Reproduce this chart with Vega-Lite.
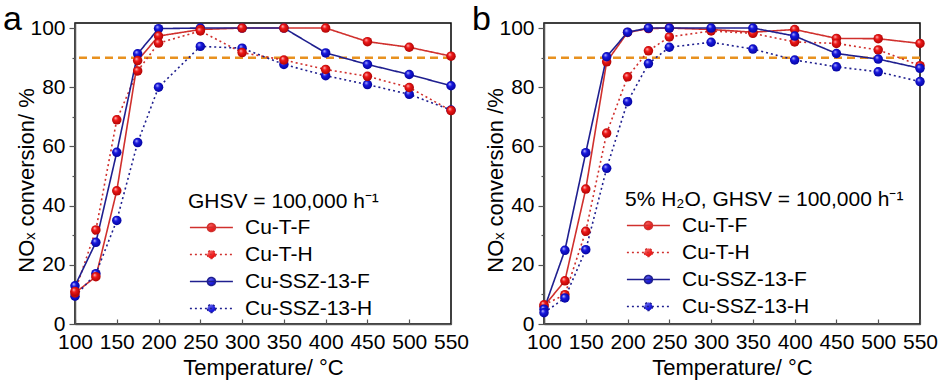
{
  "$schema": "https://vega.github.io/schema/vega-lite/v6.json",
  "padding": {"top": 2, "left": 2, "right": 2, "bottom": 2},
  "spacing": 1,
  "background": "white",
  "config": {
    "font": "Liberation Sans",
    "view": {"stroke": "black", "strokeWidth": 1.5},
    "axis": {"domainColor": "#555", "domainWidth": 1.5, "tickColor": "#555", "tickWidth": 1.2, "labelColor": "black", "labelFontSize": 21, "titleFontSize": 22, "titleFontWeight": "normal", "titleColor": "black", "grid": false, "labelFont": "Liberation Sans", "titleFont": "Liberation Sans"},
    "axisX": {"values": [100,125,150,175,200,225,250,275,300,325,350,375,400,425,450,475,500,525,550], "labelExpr": "datum.value % 50 === 0 ? datum.label : ''", "tickSize": {"condition": {"test": "datum.value % 50 === 0", "value": -5}, "value": -3}, "labelPadding": 12, "labelFlush": false, "labelOverlap": false, "labelBound": false, "titlePadding": 5},
    "axisY": {"values": [0,10,20,30,40,50,60,70,80,90,100], "labelExpr": "datum.value % 20 === 0 ? datum.label : ''", "tickSize": {"condition": {"test": "datum.value % 20 === 0", "value": 6}, "value": 3}, "labelPadding": 4, "labelOverlap": false, "titleX": -37, "titleY": 157},
    "legend": {"labelFont": "Liberation Sans", "titleFont": "Liberation Sans", "labelColor": "black", "titleColor": "black", "labelFontSize": 21, "titleFontSize": 21, "titleFontWeight": "normal", "titleLimit": 400, "labelLimit": 300, "orient": "none", "symbolType": "M-1,0H4M1.965,0A0.465,0.465,0,1,1,1.035,0A0.465,0.465,0,1,1,1.965,0Z", "symbolSize": 296, "symbolStrokeWidth": 1.6, "labelOffset": 36, "rowPadding": 5, "titlePadding": 5},
    "title": {"font": "Liberation Sans", "color": "black"}
  },
  "resolve": {"legend": {"stroke": "independent"}},
  "datasets": {
    "conv": [
      {"panel": "a", "series": "Cu-T-F", "T": 100, "v": 10.5},
      {"panel": "a", "series": "Cu-T-F", "T": 125, "v": 16},
      {"panel": "a", "series": "Cu-T-F", "T": 150, "v": 45},
      {"panel": "a", "series": "Cu-T-F", "T": 175, "v": 89},
      {"panel": "a", "series": "Cu-T-F", "T": 200, "v": 97.3},
      {"panel": "a", "series": "Cu-T-F", "T": 250, "v": 99.5},
      {"panel": "a", "series": "Cu-T-F", "T": 300, "v": 100},
      {"panel": "a", "series": "Cu-T-F", "T": 350, "v": 100},
      {"panel": "a", "series": "Cu-T-F", "T": 400, "v": 100},
      {"panel": "a", "series": "Cu-T-F", "T": 450, "v": 95.4},
      {"panel": "a", "series": "Cu-T-F", "T": 500, "v": 93.5},
      {"panel": "a", "series": "Cu-T-F", "T": 550, "v": 90.5},
      {"panel": "a", "series": "Cu-T-H", "T": 100, "v": 11},
      {"panel": "a", "series": "Cu-T-H", "T": 125, "v": 31.8},
      {"panel": "a", "series": "Cu-T-H", "T": 150, "v": 69},
      {"panel": "a", "series": "Cu-T-H", "T": 175, "v": 85.5},
      {"panel": "a", "series": "Cu-T-H", "T": 200, "v": 94.9},
      {"panel": "a", "series": "Cu-T-H", "T": 250, "v": 99},
      {"panel": "a", "series": "Cu-T-H", "T": 300, "v": 91.7},
      {"panel": "a", "series": "Cu-T-H", "T": 350, "v": 89.2},
      {"panel": "a", "series": "Cu-T-H", "T": 400, "v": 86},
      {"panel": "a", "series": "Cu-T-H", "T": 450, "v": 83.7},
      {"panel": "a", "series": "Cu-T-H", "T": 500, "v": 79.9},
      {"panel": "a", "series": "Cu-T-H", "T": 550, "v": 72.1},
      {"panel": "a", "series": "Cu-SSZ-13-F", "T": 100, "v": 12.9},
      {"panel": "a", "series": "Cu-SSZ-13-F", "T": 125, "v": 27.6},
      {"panel": "a", "series": "Cu-SSZ-13-F", "T": 150, "v": 58},
      {"panel": "a", "series": "Cu-SSZ-13-F", "T": 175, "v": 91.3},
      {"panel": "a", "series": "Cu-SSZ-13-F", "T": 200, "v": 99.8},
      {"panel": "a", "series": "Cu-SSZ-13-F", "T": 250, "v": 100},
      {"panel": "a", "series": "Cu-SSZ-13-F", "T": 300, "v": 100},
      {"panel": "a", "series": "Cu-SSZ-13-F", "T": 350, "v": 100},
      {"panel": "a", "series": "Cu-SSZ-13-F", "T": 400, "v": 91.6},
      {"panel": "a", "series": "Cu-SSZ-13-F", "T": 450, "v": 87.7},
      {"panel": "a", "series": "Cu-SSZ-13-F", "T": 500, "v": 84.3},
      {"panel": "a", "series": "Cu-SSZ-13-F", "T": 550, "v": 80.5},
      {"panel": "a", "series": "Cu-SSZ-13-H", "T": 100, "v": 9.4},
      {"panel": "a", "series": "Cu-SSZ-13-H", "T": 125, "v": 17},
      {"panel": "a", "series": "Cu-SSZ-13-H", "T": 150, "v": 35},
      {"panel": "a", "series": "Cu-SSZ-13-H", "T": 175, "v": 61.3},
      {"panel": "a", "series": "Cu-SSZ-13-H", "T": 200, "v": 80},
      {"panel": "a", "series": "Cu-SSZ-13-H", "T": 250, "v": 93.8},
      {"panel": "a", "series": "Cu-SSZ-13-H", "T": 300, "v": 93.2},
      {"panel": "a", "series": "Cu-SSZ-13-H", "T": 350, "v": 87.7},
      {"panel": "a", "series": "Cu-SSZ-13-H", "T": 400, "v": 83.9},
      {"panel": "a", "series": "Cu-SSZ-13-H", "T": 450, "v": 80.9},
      {"panel": "a", "series": "Cu-SSZ-13-H", "T": 500, "v": 77.6},
      {"panel": "a", "series": "Cu-SSZ-13-H", "T": 550, "v": 72.3},
      {"panel": "b", "series": "Cu-T-F", "T": 100, "v": 6},
      {"panel": "b", "series": "Cu-T-F", "T": 125, "v": 14.6},
      {"panel": "b", "series": "Cu-T-F", "T": 150, "v": 45.6},
      {"panel": "b", "series": "Cu-T-F", "T": 175, "v": 88.6},
      {"panel": "b", "series": "Cu-T-F", "T": 200, "v": 98.5},
      {"panel": "b", "series": "Cu-T-F", "T": 225, "v": 99.8},
      {"panel": "b", "series": "Cu-T-F", "T": 250, "v": 100},
      {"panel": "b", "series": "Cu-T-F", "T": 300, "v": 99.5},
      {"panel": "b", "series": "Cu-T-F", "T": 350, "v": 98.6},
      {"panel": "b", "series": "Cu-T-F", "T": 400, "v": 99.5},
      {"panel": "b", "series": "Cu-T-F", "T": 450, "v": 96.5},
      {"panel": "b", "series": "Cu-T-F", "T": 500, "v": 96.4},
      {"panel": "b", "series": "Cu-T-F", "T": 550, "v": 94.8},
      {"panel": "b", "series": "Cu-T-H", "T": 100, "v": 6.5},
      {"panel": "b", "series": "Cu-T-H", "T": 125, "v": 9.9},
      {"panel": "b", "series": "Cu-T-H", "T": 150, "v": 31.3},
      {"panel": "b", "series": "Cu-T-H", "T": 175, "v": 64.5},
      {"panel": "b", "series": "Cu-T-H", "T": 200, "v": 83.5},
      {"panel": "b", "series": "Cu-T-H", "T": 225, "v": 92.3},
      {"panel": "b", "series": "Cu-T-H", "T": 250, "v": 97},
      {"panel": "b", "series": "Cu-T-H", "T": 300, "v": 99},
      {"panel": "b", "series": "Cu-T-H", "T": 350, "v": 98.2},
      {"panel": "b", "series": "Cu-T-H", "T": 400, "v": 95.3},
      {"panel": "b", "series": "Cu-T-H", "T": 450, "v": 94.8},
      {"panel": "b", "series": "Cu-T-H", "T": 500, "v": 92.6},
      {"panel": "b", "series": "Cu-T-H", "T": 550, "v": 87.3},
      {"panel": "b", "series": "Cu-SSZ-13-F", "T": 100, "v": 5},
      {"panel": "b", "series": "Cu-SSZ-13-F", "T": 125, "v": 24.9},
      {"panel": "b", "series": "Cu-SSZ-13-F", "T": 150, "v": 57.9},
      {"panel": "b", "series": "Cu-SSZ-13-F", "T": 175, "v": 90.3},
      {"panel": "b", "series": "Cu-SSZ-13-F", "T": 200, "v": 98.6},
      {"panel": "b", "series": "Cu-SSZ-13-F", "T": 225, "v": 100},
      {"panel": "b", "series": "Cu-SSZ-13-F", "T": 250, "v": 100},
      {"panel": "b", "series": "Cu-SSZ-13-F", "T": 300, "v": 100},
      {"panel": "b", "series": "Cu-SSZ-13-F", "T": 350, "v": 100},
      {"panel": "b", "series": "Cu-SSZ-13-F", "T": 400, "v": 97.3},
      {"panel": "b", "series": "Cu-SSZ-13-F", "T": 450, "v": 91.4},
      {"panel": "b", "series": "Cu-SSZ-13-F", "T": 500, "v": 89.5},
      {"panel": "b", "series": "Cu-SSZ-13-F", "T": 550, "v": 86.4},
      {"panel": "b", "series": "Cu-SSZ-13-H", "T": 100, "v": 3.8},
      {"panel": "b", "series": "Cu-SSZ-13-H", "T": 125, "v": 8.8},
      {"panel": "b", "series": "Cu-SSZ-13-H", "T": 150, "v": 25.1},
      {"panel": "b", "series": "Cu-SSZ-13-H", "T": 175, "v": 52.6},
      {"panel": "b", "series": "Cu-SSZ-13-H", "T": 200, "v": 75.1},
      {"panel": "b", "series": "Cu-SSZ-13-H", "T": 225, "v": 88},
      {"panel": "b", "series": "Cu-SSZ-13-H", "T": 250, "v": 93.5},
      {"panel": "b", "series": "Cu-SSZ-13-H", "T": 300, "v": 95.2},
      {"panel": "b", "series": "Cu-SSZ-13-H", "T": 350, "v": 92.9},
      {"panel": "b", "series": "Cu-SSZ-13-H", "T": 400, "v": 89.2},
      {"panel": "b", "series": "Cu-SSZ-13-H", "T": 450, "v": 86.9},
      {"panel": "b", "series": "Cu-SSZ-13-H", "T": 500, "v": 85.2},
      {"panel": "b", "series": "Cu-SSZ-13-H", "T": 550, "v": 81.9}
    ],
    "ref": [{"y": 90}]
  },
  "hconcat": [
    {
      "title": {"text": "a", "anchor": "start", "frame": "bounds", "fontSize": 34, "fontWeight": "normal", "offset": -20, "dx": -12},
      "width": 376,
      "height": 301,
      "layer": [
        {
          "data": {"name": "ref"},
          "mark": {"type": "rule", "color": "#E8911F", "strokeWidth": 2.5, "strokeDash": [8, 5]},
          "encoding": {"y": {"field": "y", "type": "quantitative"}}
        },
        {
          "data": {"name": "conv"},
          "transform": [{"filter": "datum.panel === 'a'"}],
          "mark": {"type": "line", "strokeWidth": 1.6},
          "encoding": {
            "x": {"field": "T", "type": "quantitative", "scale": {"domain": [100, 550], "nice": false}, "axis": {"title": "Temperature/ °C"}},
            "y": {"field": "v", "type": "quantitative", "scale": {"domain": [0, 101.7], "nice": false, "zero": false}, "axis": {"title": "NOₓ conversion/ %"}},
            "stroke": {"field": "series", "type": "nominal", "scale": {"domain": ["Cu-T-F", "Cu-T-H", "Cu-SSZ-13-F", "Cu-SSZ-13-H"], "range": ["#D0302D", "#D0302D", "#1F1F8F", "#1F1F8F"]},
              "legend": {"title": "GHSV = 100,000 h⁻¹", "legendX": 113, "legendY": 168,
                "encode": {"symbols": {"update": {
                  "fill": {"signal": "indexof(['Cu-T-F','Cu-T-H'], datum.value) >= 0 ? {gradient: 'radial', x1: 0.35, y1: 0.3, r1: 0, x2: 0.5, y2: 0.5, r2: 0.6, stops: [{offset: 0, color: '#FFC8C8'}, {offset: 0.35, color: '#F01818'}, {offset: 1, color: '#A00000'}]} : {gradient: 'radial', x1: 0.35, y1: 0.3, r1: 0, x2: 0.5, y2: 0.5, r2: 0.6, stops: [{offset: 0, color: '#C8C8FF'}, {offset: 0.35, color: '#1818E0'}, {offset: 1, color: '#000090'}]}"},
                  "stroke": {"signal": "indexof(['Cu-T-F','Cu-T-H'], datum.value) >= 0 ? '#D0302D' : '#1F1F8F'"},
                  "strokeDash": {"signal": "indexof(['Cu-T-H','Cu-SSZ-13-H'], datum.value) >= 0 ? [2,3] : [1,0]"},
                  "opacity": {"value": 1}
                }}}}},
            "strokeDash": {"field": "series", "type": "nominal", "scale": {"domain": ["Cu-T-F", "Cu-T-H", "Cu-SSZ-13-F", "Cu-SSZ-13-H"], "range": [[1, 0], [2, 3], [1, 0], [2, 3]]}, "legend": null}
          }
        },
        {
          "data": {"name": "conv"},
          "transform": [{"filter": "datum.panel === 'a' && (datum.series === 'Cu-SSZ-13-F' || datum.series === 'Cu-SSZ-13-H')"}],
          "mark": {"type": "point", "shape": "circle", "filled": true, "size": 90, "opacity": 1,
            "fill": {"gradient": "radial", "x1": 0.35, "y1": 0.3, "r1": 0, "x2": 0.5, "y2": 0.5, "r2": 0.6, "stops": [{"offset": 0, "color": "#C8C8FF"}, {"offset": 0.35, "color": "#1818E0"}, {"offset": 1, "color": "#000090"}]}},
          "encoding": {"x": {"field": "T", "type": "quantitative"}, "y": {"field": "v", "type": "quantitative"}}
        },
        {
          "data": {"name": "conv"},
          "transform": [{"filter": "datum.panel === 'a' && (datum.series === 'Cu-T-F' || datum.series === 'Cu-T-H')"}],
          "mark": {"type": "point", "shape": "circle", "filled": true, "size": 90, "opacity": 1,
            "fill": {"gradient": "radial", "x1": 0.35, "y1": 0.3, "r1": 0, "x2": 0.5, "y2": 0.5, "r2": 0.6, "stops": [{"offset": 0, "color": "#FFC8C8"}, {"offset": 0.35, "color": "#F01818"}, {"offset": 1, "color": "#A00000"}]}},
          "encoding": {"x": {"field": "T", "type": "quantitative"}, "y": {"field": "v", "type": "quantitative"}}
        }
      ]
    },
    {
      "title": {"text": "b", "anchor": "start", "frame": "bounds", "fontSize": 34, "fontWeight": "normal", "offset": -20, "dx": -12},
      "width": 376,
      "height": 301,
      "layer": [
        {
          "data": {"name": "ref"},
          "mark": {"type": "rule", "color": "#E8911F", "strokeWidth": 2.5, "strokeDash": [8, 5]},
          "encoding": {"y": {"field": "y", "type": "quantitative"}}
        },
        {
          "data": {"name": "conv"},
          "transform": [{"filter": "datum.panel === 'b'"}],
          "mark": {"type": "line", "strokeWidth": 1.6},
          "encoding": {
            "x": {"field": "T", "type": "quantitative", "scale": {"domain": [100, 550], "nice": false}, "axis": {"title": "Temperature/ °C"}},
            "y": {"field": "v", "type": "quantitative", "scale": {"domain": [0, 101.7], "nice": false, "zero": false}, "axis": {"title": "NOₓ conversion /%"}},
            "stroke": {"field": "series", "type": "nominal", "scale": {"domain": ["Cu-T-F", "Cu-T-H", "Cu-SSZ-13-F", "Cu-SSZ-13-H"], "range": ["#D0302D", "#D0302D", "#1F1F8F", "#1F1F8F"]},
              "legend": {"title": "5% H₂O, GHSV = 100,000 h⁻¹", "legendX": 81, "legendY": 166,
                "encode": {"symbols": {"update": {
                  "fill": {"signal": "indexof(['Cu-T-F','Cu-T-H'], datum.value) >= 0 ? {gradient: 'radial', x1: 0.35, y1: 0.3, r1: 0, x2: 0.5, y2: 0.5, r2: 0.6, stops: [{offset: 0, color: '#FFC8C8'}, {offset: 0.35, color: '#F01818'}, {offset: 1, color: '#A00000'}]} : {gradient: 'radial', x1: 0.35, y1: 0.3, r1: 0, x2: 0.5, y2: 0.5, r2: 0.6, stops: [{offset: 0, color: '#C8C8FF'}, {offset: 0.35, color: '#1818E0'}, {offset: 1, color: '#000090'}]}"},
                  "stroke": {"signal": "indexof(['Cu-T-F','Cu-T-H'], datum.value) >= 0 ? '#D0302D' : '#1F1F8F'"},
                  "strokeDash": {"signal": "indexof(['Cu-T-H','Cu-SSZ-13-H'], datum.value) >= 0 ? [2,3] : [1,0]"},
                  "opacity": {"value": 1}
                }}}}},
            "strokeDash": {"field": "series", "type": "nominal", "scale": {"domain": ["Cu-T-F", "Cu-T-H", "Cu-SSZ-13-F", "Cu-SSZ-13-H"], "range": [[1, 0], [2, 3], [1, 0], [2, 3]]}, "legend": null}
          }
        },
        {
          "data": {"name": "conv"},
          "transform": [{"filter": "datum.panel === 'b' && (datum.series === 'Cu-T-F' || datum.series === 'Cu-T-H')"}],
          "mark": {"type": "point", "shape": "circle", "filled": true, "size": 90, "opacity": 1,
            "fill": {"gradient": "radial", "x1": 0.35, "y1": 0.3, "r1": 0, "x2": 0.5, "y2": 0.5, "r2": 0.6, "stops": [{"offset": 0, "color": "#FFC8C8"}, {"offset": 0.35, "color": "#F01818"}, {"offset": 1, "color": "#A00000"}]}},
          "encoding": {"x": {"field": "T", "type": "quantitative"}, "y": {"field": "v", "type": "quantitative"}}
        },
        {
          "data": {"name": "conv"},
          "transform": [{"filter": "datum.panel === 'b' && (datum.series === 'Cu-SSZ-13-F' || datum.series === 'Cu-SSZ-13-H')"}],
          "mark": {"type": "point", "shape": "circle", "filled": true, "size": 90, "opacity": 1,
            "fill": {"gradient": "radial", "x1": 0.35, "y1": 0.3, "r1": 0, "x2": 0.5, "y2": 0.5, "r2": 0.6, "stops": [{"offset": 0, "color": "#C8C8FF"}, {"offset": 0.35, "color": "#1818E0"}, {"offset": 1, "color": "#000090"}]}},
          "encoding": {"x": {"field": "T", "type": "quantitative"}, "y": {"field": "v", "type": "quantitative"}}
        }
      ]
    }
  ]
}
